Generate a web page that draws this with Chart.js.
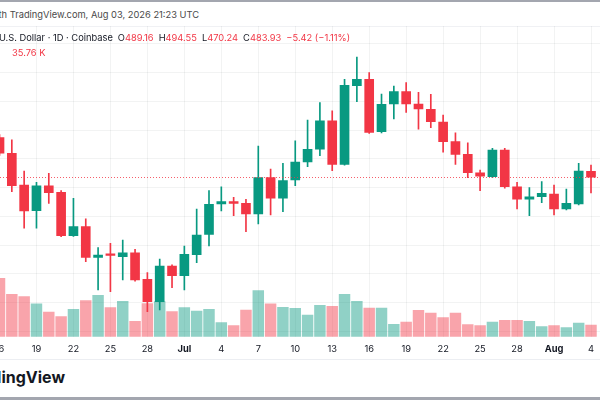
<!DOCTYPE html>
<html>
<head>
<meta charset="utf-8">
<script src="https://cdn.jsdelivr.net/npm/chart.js@4"></script>
<style>
  html, body { margin: 0; padding: 0; background: #fff; }
  body { width: 600px; height: 400px; position: relative; overflow: hidden; font-family: Inter, "Noto Sans", sans-serif; color: #131722; }
  .abs { position: absolute; white-space: nowrap; }
  #topline { left: 0; top: 0; width: 600px; height: 1.5px; background: #a3a6af; }
  #hdr { top: 9px; right: 401px; font-size: 9.3px; color: #4a4a4a; line-height: 12px; }
  #paneTop { left: 0; top: 26px; width: 600px; height: 1px; background: #f0f1f4; }
  #wrap { left: 0; top: 26px; width: 600px; height: 334px; }
  #legend { top: 31.5px; left: -1px; font-size: 9.3px; line-height: 12px; z-index: 2; }
  #legend2 { top: 46.5px; left: 12px; font-size: 9.3px; line-height: 12px; z-index: 2; }
  .r { color: #f23645; }
  .gap { margin-left: 5px; }
  #axisline { left: 0; top: 359px; width: 600px; height: 1px; background: #eceef2; }
  #logo { top: 366px; right: 535px; font-size: 16px; font-weight: 700; color: #131722; line-height: 22px; }
  #botline { left: 0; top: 397px; width: 600px; height: 3px; background: #a3a6af; }
</style>
</head>
<body>
<div class="abs" id="topline"></div>
<div class="abs" id="hdr">with TradingView.com, Aug 03, 2026 21:23 UTC</div>
<div class="abs" id="paneTop"></div>
<div class="abs" id="wrap"><canvas id="chart" width="600" height="334"></canvas></div>
<div class="abs" id="legend"></div>
<div class="abs" id="legend2"></div>
<div class="abs" id="axisline"></div>
<div class="abs" id="logo">TradingView</div>
<div class="abs" id="botline"></div>

<script>
// daily candles, Jun 16 .. Aug 4 (x labels every 3rd bar, as on the picture)
const dayLabels = ["16","","","19","","","22","","","25","","","28","","","Jul","","","4","","","7","","","10","","","13","","","16","","","19","","","22","","","25","","","28","","","Aug","","","4"];

const opens  = [518.4,504.8,477.2,454.9,476.4,470.9,433.1,441.0,414.3,417.2,414.9,418.3,395.2,375.7,406.8,398.3,416.6,434.3,460.7,462.7,461.3,452.0,483.6,465.7,481.6,497.2,508.3,533.1,495.2,563.6,569.1,523.6,547.7,558.4,547.7,543.0,532.0,514.9,503.9,487.9,484.4,507.7,475.7,464.8,467.0,469.4,456.4,460.7,489.16];
const highs  = [521.0,516.4,489.4,479.6,487.4,472.3,465.7,447.7,422.7,426.5,429.4,421.3,401.0,412.9,407.7,424.2,456.2,472.3,475.7,466.5,464.8,511.1,491.1,496.1,515.7,533.7,548.8,541.8,569.1,588.5,574.9,556.4,563.3,566.2,557.8,556.1,538.1,522.7,514.0,490.3,509.1,509.1,479.6,474.9,480.1,477.2,473.7,496.1,494.55];
const lows   = [503.0,471.4,439.6,439.6,461.3,432.3,432.5,410.5,385.9,384.4,394.6,393.7,367.0,368.5,387.9,385.9,409.7,424.2,454.6,450.5,436.6,443.3,451.1,454.0,476.6,493.1,502.7,489.7,494.5,549.7,522.0,522.5,534.6,540.4,525.7,527.0,505.7,495.2,483.6,472.3,483.5,474.4,456.4,450.5,461.8,451.1,455.5,460.0,470.24];
const closes = [504.8,476.6,454.6,476.4,470.5,433.1,441.0,414.3,416.3,416.0,418.3,394.6,375.7,406.8,398.3,417.0,433.7,460.4,462.7,461.3,452.0,483.6,465.7,481.0,497.2,508.3,533.1,495.2,563.9,569.1,523.0,547.4,558.4,547.7,543.3,532.3,514.9,503.9,487.9,485.0,507.7,475.7,464.8,467.0,470.0,456.4,461.3,489.35,483.93];
// volume, thousands
const volumes = [178.7,129.7,122.4,100.1,75.6,61.2,83.8,110.2,126.7,88.7,108.3,47.1,101.0,107.1,76.5,88.7,78.6,83.8,42.8,33.7,81.7,140.8,100.1,90.0,86.9,66.4,96.1,93.0,129.7,108.3,87.8,87.8,37.9,45.0,80.8,72.5,58.1,72.5,36.7,33.7,45.0,50.2,50.2,47.1,30.6,33.7,27.5,41.9,35.76];
const priceTicks = [350,375,400,425,450,475,500,525,550,575,600];

const UP = "#089981", DOWN = "#f23645";
const UP_VOL = "rgba(8,153,129,0.45)", DOWN_VOL = "rgba(242,54,69,0.45)";

const isUp = opens.map((o, i) => closes[i] >= o);
const last = opens.length - 1;
const lastClose = closes[last];

// legend text from the last bar
const chg = closes[last] - closes[last - 1];
const pct = chg / closes[last - 1] * 100;
const fmt = v => (v < 0 ? "\u2212" : "") + Math.abs(v).toFixed(2);
document.getElementById("legend").innerHTML =
  `U.S. Dollar · 1D · Coinbase` +
  `<span class="gap">O</span><span class="r">${opens[last].toFixed(2)}</span>` +
  `<span class="gap">H</span><span class="r">${highs[last].toFixed(2)}</span>` +
  `<span class="gap">L</span><span class="r">${lows[last].toFixed(2)}</span>` +
  `<span class="gap">C</span><span class="r">${closes[last].toFixed(2)}</span>` +
  `<span class="gap r">${fmt(chg)} (${fmt(pct)}%)</span>`;
document.getElementById("legend2").innerHTML = `<span class="r">${volumes[last].toFixed(2)} K</span>`;

const tickIdx = dayLabels.map((l, i) => l ? i : -1).filter(i => i >= 0);

const lastPriceLine = {
  id: "lastPriceLine",
  afterDatasetsDraw(chart) {
    const { ctx, chartArea, scales } = chart;
    const y = Math.round(scales.y.getPixelForValue(lastClose)) + 0.5;
    ctx.save();
    ctx.strokeStyle = DOWN;
    ctx.globalAlpha = 0.8;
    ctx.lineWidth = 1;
    ctx.setLineDash([1, 2]);
    ctx.beginPath();
    ctx.moveTo(chartArea.left, y);
    ctx.lineTo(chartArea.right, y);
    ctx.stroke();
    ctx.restore();
  }
};

new Chart(document.getElementById("chart"), {
  type: "bar",
  data: {
    datasets: [
      {
        label: "Body",
        data: opens.map((o, i) => ({ x: i, y: [o, closes[i]] })),
        backgroundColor: isUp.map(u => u ? UP : DOWN),
        barThickness: 9,
        grouped: false,
        order: 1,
        yAxisID: "y",
        minBarLength: 1.5
      },
      {
        label: "Wick",
        data: highs.map((h, i) => ({ x: i, y: [lows[i], h] })),
        backgroundColor: isUp.map(u => u ? UP : DOWN),
        barThickness: 1,
        grouped: false,
        order: 2,
        yAxisID: "y"
      },
      {
        label: "Volume",
        data: volumes.map((v, i) => ({ x: i, y: v })),
        backgroundColor: isUp.map(u => u ? UP_VOL : DOWN_VOL),
        barThickness: 10.8,
        grouped: false,
        order: 3,
        yAxisID: "yv"
      }
    ]
  },
  options: {
    responsive: false,
    animation: false,
    layout: { padding: 0 },
    plugins: { legend: { display: false }, tooltip: { enabled: false } },
    scales: {
      x: {
        type: "linear",
        min: 0.04,
        max: 48.73,
        offset: false,
        grid: { color: "rgba(42,46,57,0.06)", drawTicks: false, offset: false },
        border: { display: false },
        afterBuildTicks: s => { s.ticks = tickIdx.map(v => ({ value: v })); },
        afterFit: s => { s.height = 23.3; s.paddingLeft = 0; s.paddingRight = 0; },
        ticks: {
          autoSkip: false,
          maxRotation: 0,
          padding: 7,
          color: "#131722",
          font: ctx => {
            const lbl = ctx.tick ? dayLabels[ctx.tick.value] : "";
            return { family: "Inter", size: 9.3, weight: /[A-Za-z]/.test(lbl || "") ? "bold" : "normal" };
          },
          callback: v => dayLabels[v]
        }
      },
      y: {
        position: "right",
        min: 345.3,
        max: 615.5,
        grid: { color: "rgba(42,46,57,0.06)", drawTicks: false },
        border: { display: false },
        afterBuildTicks: s => { s.ticks = priceTicks.map(v => ({ value: v })); },
        afterFit: s => { s.width = 0; s.paddingTop = 0; s.paddingBottom = 0; },
        ticks: { display: false }
      },
      yv: {
        display: false,
        min: 0,
        max: 949.5
      }
    }
  },
  plugins: [lastPriceLine]
});
</script>
</body>
</html>
